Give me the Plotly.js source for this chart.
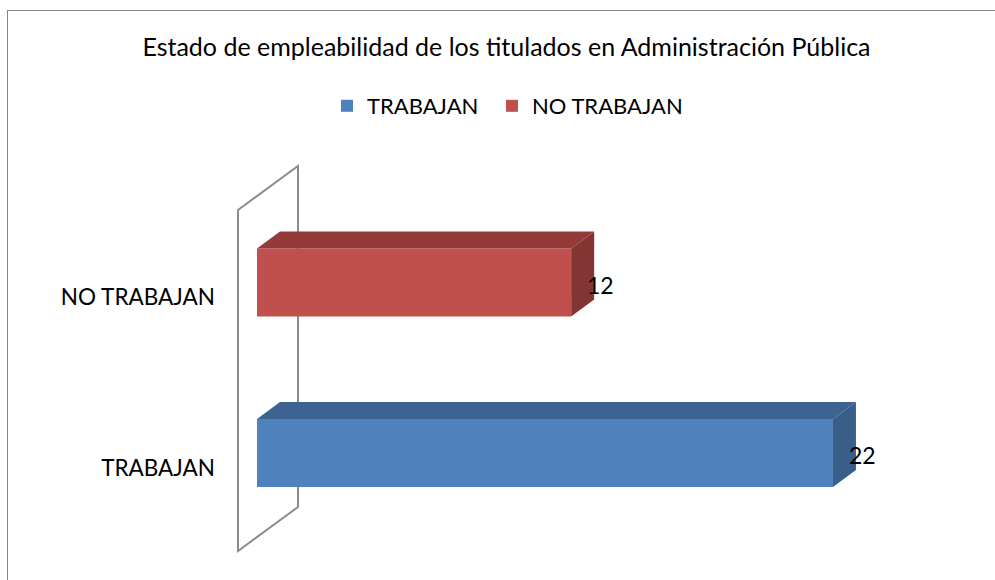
<!DOCTYPE html>
<html>
<head>
<meta charset="utf-8">
<script src="https://cdn.plot.ly/plotly-3.0.1.min.js"></script>
<style>html,body{margin:0;padding:0;background:#fff;}#chart{width:995px;height:580px;}</style>
</head>
<body>
<div id="chart"></div>
<script>
// ---- data ----
const categories = ['TRABAJAN', 'NO TRABAJAN'];
const values = [22, 12];
const titleText = 'Estado de empleabilidad de los titulados en Administración Pública';

// ---- styles ----
const frontColors = ['#4F81BD', '#C0504D'];
const topColors   = ['#3D6491', '#943B39'];
const sideColors  = ['#395E8A', '#833533'];
const FONT = 'Lato, "Open Sans", sans-serif';

// ---- geometry (pixel scale of the axes) ----
const W = 995, H = 580;
const M = {l: 230, r: 65, t: 150, b: 10};
const plotW = W - M.l - M.r, plotH = H - M.t - M.b;
const PX = 26.18;      // px per x unit
const PY = 170.5;      // px per category step
const zeroPx = 257;    // x pixel of value 0
const cat0Px = 453;    // y pixel of first category center
const xr0 = -(zeroPx - M.l) / PX;
const xRange = [xr0, xr0 + plotW / PX];
const yr0 = -((H - M.b) - cat0Px) / PY;
const yRange = [yr0, yr0 + plotH / PY];

const barW = 0.398;
const depthX = 23 / PX, depthY = 17 / PY;

const px2paperX = p => (p - M.l) / plotW;
const px2paperY = p => ((H - M.b) - p) / plotH;

const legendNames = ['legend', 'legend2'];
const legendLeftPx = [327, 492];

const traces = [];
// front faces (bars)
categories.forEach((c, i) => {
  traces.push({
    type: 'bar', orientation: 'h', name: c, legend: legendNames[i],
    x: [values[i]], y: [i], base: 0, width: barW,
    marker: {color: frontColors[i], line: {width: 0}},
    hoverinfo: 'x+name'
  });
});
// 3D faces
categories.forEach((c, i) => {
  const v = values[i], h = barW / 2;
  traces.push({
    type: 'scatter', mode: 'lines', showlegend: false, hoverinfo: 'skip',
    x: [0, v, v + depthX, depthX, 0],
    y: [i + h, i + h, i + h + depthY, i + h + depthY, i + h],
    fill: 'toself', fillcolor: topColors[i], line: {width: 0, color: topColors[i]}
  });
  traces.push({
    type: 'scatter', mode: 'lines', showlegend: false, hoverinfo: 'skip',
    x: [v, v, v + depthX, v + depthX, v],
    y: [i - h, i + h, i + h + depthY, i - h + depthY, i - h],
    fill: 'toself', fillcolor: sideColors[i], line: {width: 0, color: sideColors[i]}
  });
});

// wall (behind bars)
const wallFrontX = (238 - zeroPx) / PX;
const wallBackX = (298 - zeroPx) / PX;
const wallFrontBot = -(551 - cat0Px) / PY, wallFrontTop = (cat0Px - 210) / PY;
const wallBackBot = -(507 - cat0Px) / PY, wallBackTop = (cat0Px - 166) / PY;
const wallPath = `M${wallFrontX},${wallFrontBot} L${wallFrontX},${wallFrontTop} L${wallBackX},${wallBackTop} L${wallBackX},${wallBackBot} Z`;

const shapes = [
  {type: 'path', xref: 'x', yref: 'y', path: wallPath, layer: 'below',
   line: {color: '#8C8C8C', width: 2}},
  {type: 'line', xref: 'paper', yref: 'paper', layer: 'above',
   x0: px2paperX(7), x1: px2paperX(1000), y0: px2paperY(10.5), y1: px2paperY(10.5),
   line: {color: '#868686', width: 1}},
  {type: 'line', xref: 'paper', yref: 'paper', layer: 'above',
   x0: px2paperX(7.5), x1: px2paperX(7.5), y0: px2paperY(10), y1: px2paperY(600),
   line: {color: '#868686', width: 1}}
];

const annotations = categories.map((c, i) => ({
  xref: 'x', yref: 'y', x: values[i], y: i, text: String(values[i]),
  showarrow: false, xanchor: 'left', yanchor: 'middle', xshift: 14, yshift: -2,
  font: {family: FONT, size: 23, color: '#000'}
}));

const legendCommon = {
  orientation: 'h', xanchor: 'left', y: 1 - 106 / H, yref: 'container',
  yanchor: 'middle', font: {family: FONT, size: 22, color: '#000'},
  bgcolor: 'rgba(0,0,0,0)', borderwidth: 0
};

const layout = {
  width: W, height: H,
  margin: M,
  paper_bgcolor: '#fff', plot_bgcolor: 'rgba(0,0,0,0)',
  font: {family: FONT, size: 22, color: '#000'},
  title: {text: titleText, x: 506.5 / W, xref: 'container', xanchor: 'center',
          y: 1 - 47 / H, yref: 'container', yanchor: 'middle',
          font: {family: FONT, size: 25, color: '#000'}},
  showlegend: true,
  legend: Object.assign({}, legendCommon, {x: px2paperX(legendLeftPx[0])}),
  legend2: Object.assign({}, legendCommon, {x: px2paperX(legendLeftPx[1])}),
  xaxis: {range: xRange, showgrid: false, zeroline: false, showline: false,
          showticklabels: false, ticks: '', fixedrange: true},
  yaxis: {range: yRange, showgrid: false, zeroline: false, showline: false,
          tickvals: categories.map((c, i) => i - 15 / PY), ticktext: categories,
          ticks: '', ticklabelstandoff: 14, tickfont: {family: FONT, size: 22.5, color: '#000'},
          fixedrange: true},
  barmode: 'overlay',
  shapes: shapes,
  annotations: annotations
};

Plotly.newPlot('chart', traces, layout, {displayModeBar: false, staticPlot: true});
</script>
</body>
</html>
